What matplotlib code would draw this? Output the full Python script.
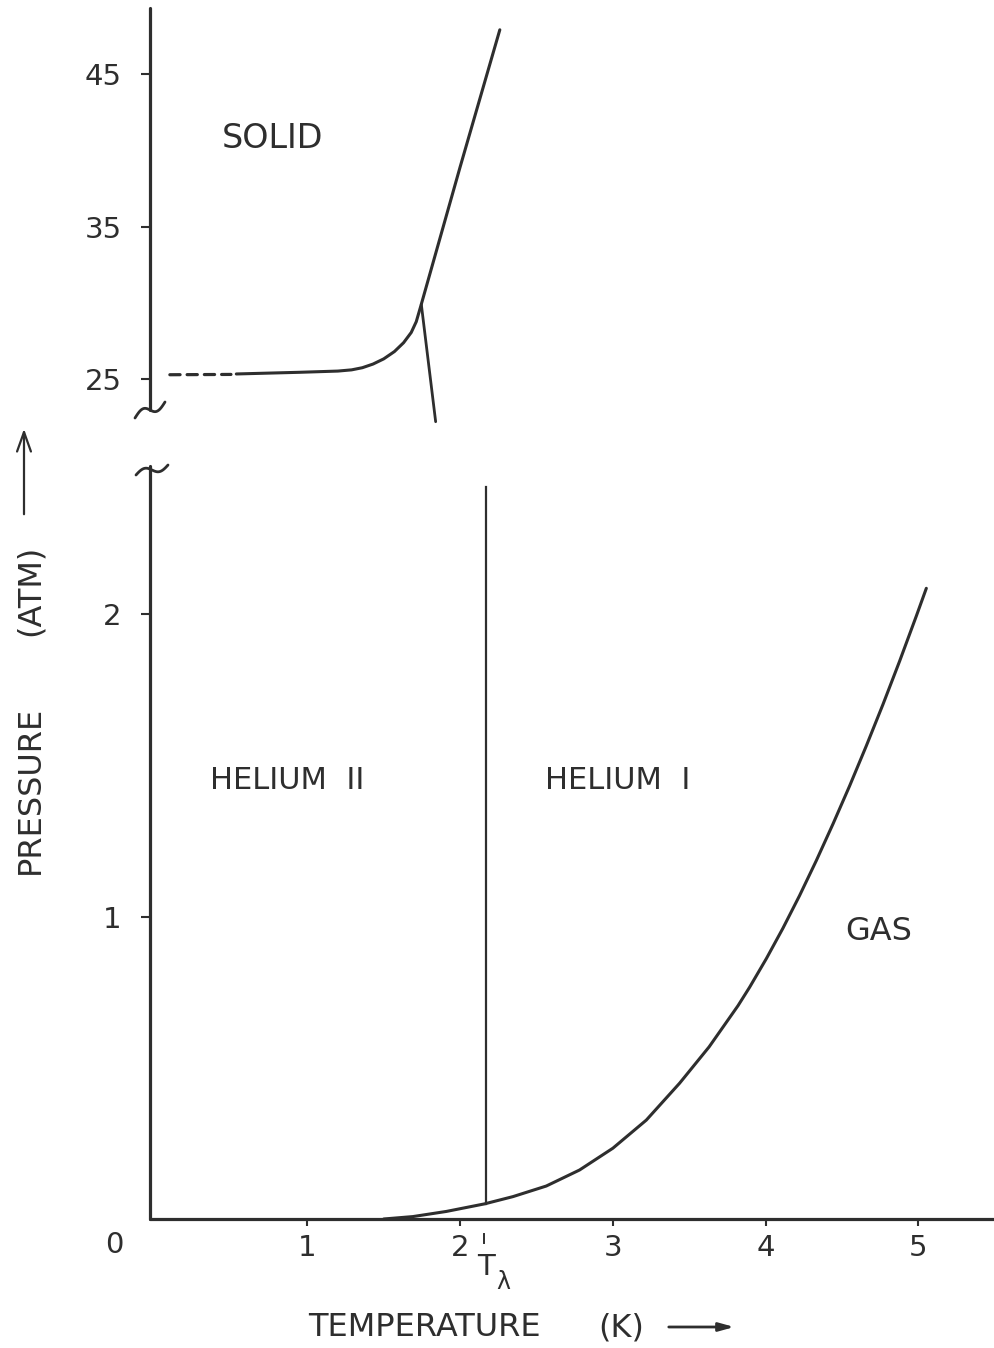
import numpy as np
import matplotlib
matplotlib.use("Agg")
import matplotlib.pyplot as plt
from matplotlib.lines import Line2D
from matplotlib.patches import FancyArrowPatch

W, H = 994, 1348
INK = "#2e2e2e"
plt.rcParams["font.family"] = ["DejaVu Sans"]

# lambda point temperature (K)
T_lambda = 2.17

# melting curve, low-temperature part drawn dashed (K, atm)
melt_dash_T = [0.10, 0.50]
melt_dash_P = [25.28, 25.30]
melt_T = [0.535, 0.949, 1.200, 1.290, 1.360, 1.430, 1.500, 1.570, 1.630, 1.680, 1.713, 1.746, 2.00, 2.26]
melt_P = [25.33, 25.44, 25.52, 25.60, 25.74, 25.98, 26.32, 26.80, 27.38, 28.05, 28.76, 29.90, 38.9, 47.9]

# lambda line at high pressure
lam_hi_T = [1.746, 1.84]
lam_hi_P = [29.90, 22.2]

# lambda line at low pressure
lam_lo_P = [0.05, 2.42]

# vapour pressure curve
vap_T = [1.50, 1.691, 1.910, 2.160, 2.346, 2.564, 2.782, 3.000, 3.219, 3.437, 3.630,
         3.819, 3.895, 4.005, 4.113, 4.222, 4.332, 4.441, 4.550, 4.659, 4.768, 4.877, 4.987, 5.052]
vap_P = [0.0, 0.008, 0.025, 0.050, 0.074, 0.109, 0.162, 0.234, 0.327, 0.449, 0.569,
         0.705, 0.766, 0.861, 0.961, 1.069, 1.185, 1.306, 1.432, 1.564, 1.701, 1.844, 1.994, 2.085]

hi_ticks = [25, 35, 45]
lo_yticks = [1, 2]
xticks = [1, 2, 3, 4, 5]

fig = plt.figure(figsize=(W / 100, H / 100), dpi=100)


def px(x, y):
    return x / W, 1 - y / H


# two panels sharing the temperature scale, the pressure axis is broken between them
ax_lo = fig.add_axes([150 / W, 1 - 1219 / H, 844 / W, (1219 - 465.8) / H])
ax_hi = fig.add_axes([150 / W, 1 - 424.75 / H, 844 / W, (424.75 - 5.4) / H])

for ax in (ax_lo, ax_hi):
    ax.set_xlim(-0.03, 5.495)
    ax.patch.set_alpha(0)
    for s in ("top", "right"):
        ax.spines[s].set_visible(False)
    for s in ("left", "bottom"):
        ax.spines[s].set_color(INK)
        ax.spines[s].set_linewidth(2.3)
        ax.spines[s].set_capstyle("round")

ax_hi.set_ylim(22.0, 49.5)
ax_hi.spines["bottom"].set_visible(False)
ax_hi.spines["left"].set_bounds(22.97, 49.33)
ax_hi.set_xticks([])
ax_hi.set_yticks(hi_ticks)
ax_hi.set_yticklabels([str(v) for v in hi_ticks])

ax_lo.set_ylim(0, 2.49)
ax_lo.spines["left"].set_bounds(0, 2.49)
ax_lo.set_yticks(lo_yticks)
ax_lo.set_yticklabels([str(v) for v in lo_yticks])
ax_lo.set_xticks(xticks)
ax_lo.set_xticklabels([str(v) for v in xticks])

for ax in (ax_lo, ax_hi):
    ax.tick_params(axis="y", direction="out", length=6.5, width=1.5, pad=14,
                   colors=INK, labelsize=21)
    ax.tick_params(axis="x", direction="out", length=5, width=1.5, pad=6,
                   colors=INK, labelsize=21)

# melting curve and upper lambda line
ax_hi.plot(melt_dash_T, melt_dash_P, color=INK, lw=2.3, dashes=(3.2, 2.2),
           solid_capstyle="round", dash_capstyle="round")
ax_hi.plot(melt_T, melt_P, color=INK, lw=2.2, solid_capstyle="round",
           solid_joinstyle="round", clip_on=False)
ax_hi.plot(lam_hi_T, lam_hi_P, color=INK, lw=2.0, solid_capstyle="round", clip_on=False)

# lower lambda line and vapour curve
ax_lo.plot([T_lambda, T_lambda], lam_lo_P, color=INK, lw=1.6)
ax_lo.plot(vap_T, vap_P, color=INK, lw=2.2, solid_capstyle="round",
           solid_joinstyle="round", clip_on=False)

# phase labels
lab = dict(color=INK, ha="center", va="center")
ax_hi.text(0.77, 40.8, "SOLID", fontsize=24, **lab)
ax_lo.text(0.87, 1.45, "HELIUM  II", fontsize=22, **lab)
ax_lo.text(3.03, 1.45, "HELIUM  I", fontsize=22, **lab)
ax_lo.text(4.74, 0.95, "GAS", fontsize=23, **lab)

# origin label and lambda marker under the axis
fig.text(*px(114, 1245), "0", fontsize=21, color=INK, ha="center", va="center")
fig.add_artist(Line2D([484 / W, 484 / W], [1 - 1234 / H, 1 - 1243 / H],
                      color=INK, lw=1.4))
fig.text(*px(486, 1267), "T", fontsize=21, color=INK, ha="center", va="center")
fig.text(*px(503, 1282), "λ", fontsize=17, color=INK, ha="center", va="center")

# axis titles
fig.text(*px(424, 1328), "TEMPERATURE", fontsize=23, color=INK, ha="center", va="center")
fig.text(*px(621, 1328), "(K)", fontsize=23, color=INK, ha="center", va="center")
fig.patches.append(FancyArrowPatch(
    px(666, 1327), px(737, 1327), transform=fig.transFigure,
    arrowstyle="-|>,head_length=9,head_width=2.5", color=INK, lw=2.0,
    mutation_scale=1))

fig.text(*px(30, 790), "PRESSURE", fontsize=23, color=INK, rotation=90,
         ha="center", va="center")
fig.text(*px(30, 590), "(ATM)", fontsize=23, color=INK, rotation=90,
         ha="center", va="center")
fig.patches.append(FancyArrowPatch(
    px(24, 517), px(24, 426), transform=fig.transFigure,
    arrowstyle="->,head_length=14,head_width=5", color=INK, lw=1.6,
    mutation_scale=1))

# break marks on the pressure axis
t = np.linspace(-1, 1, 40)
bx = 150 + 15 * t
by = 410 - 8 * t + 5 * np.sin(np.pi * t)
fig.add_artist(Line2D(bx / W, 1 - by / H, color=INK, lw=2.0, solid_capstyle="round"))
bx = 152 + 16 * t
by = 470 - 5 * t + 4 * np.sin(np.pi * t)
fig.add_artist(Line2D(bx / W, 1 - by / H, color=INK, lw=2.0, solid_capstyle="round"))

fig.savefig("out.png", dpi=100, facecolor="white")
